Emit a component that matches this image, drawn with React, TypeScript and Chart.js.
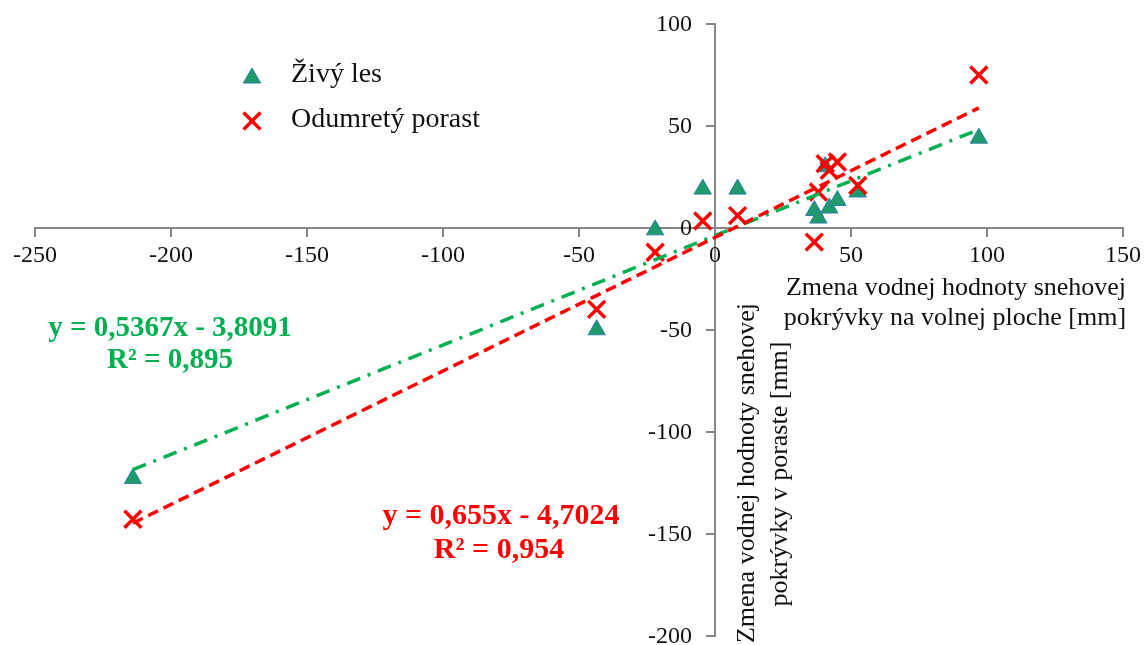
import React, { useEffect, useRef } from "react";
import { Chart, registerables } from "chart.js";

Chart.register(...registerables);

// Change of snow water equivalent on the open plot [mm] (shared by both stands)
const openAreaChange = [97, -214, -43.5, -22, -4.5, 8.3, 36.5, 38, 42, 45, 52.5, 40.5];
// Change of snow water equivalent inside the stand [mm]
const livingForest = [44, -123, -50, -1, 19, 19, 8.5, 4.8, 9.7, 13.4, 17.6, 30];
const deadStand = [75, -143, -40, -12, 3.4, 6, -7, 17.6, 28.2, 32.3, 20.8, 31.5];

const seriesNames = ["Živý les", "Odumretý porast"];

// Linear trend coefficients: y = slope * x + intercept
const livingTrend = { slope: 0.5367, intercept: -3.8091, r2: "0,895" };
const deadTrend = { slope: 0.655, intercept: -4.7024, r2: "0,954" };

const xTitleLines = ["Zmena vodnej hodnoty snehovej", "pokrývky na volnej ploche [mm]"];
const yTitleLines = ["Zmena vodnej hodnoty snehovej", "pokrývky v poraste [mm]"];

const GREEN = "#00B050";
const RED = "#FF0000";
const TRI_FILL = "#1f9a6a";
const TRI_EDGE = "#2f7fae";
const AXIS = "#878787";
const TEXT = "#111";
const SERIF = "'Liberation Serif', 'Times New Roman', serif";

const fmt = (v: number) => v.toString().replace(".", ",");

function trendPoints(t: { slope: number; intercept: number }) {
  const lo = Math.min(...openAreaChange);
  const hi = Math.max(...openAreaChange);
  return [lo, hi].map((x) => ({ x, y: t.slope * x + t.intercept }));
}

function drawTriangle(ctx: CanvasRenderingContext2D, x: number, y: number, r: number) {
  ctx.beginPath();
  ctx.moveTo(x, y - r);
  ctx.lineTo(x + r * 0.866, y + r / 2);
  ctx.lineTo(x - r * 0.866, y + r / 2);
  ctx.closePath();
  ctx.fillStyle = TRI_FILL;
  ctx.fill();
  ctx.strokeStyle = TRI_EDGE;
  ctx.lineWidth = 1;
  ctx.stroke();
}

function drawCross(ctx: CanvasRenderingContext2D, x: number, y: number, r: number) {
  const o = r * 0.7071;
  ctx.beginPath();
  ctx.moveTo(x - o, y - o);
  ctx.lineTo(x + o, y + o);
  ctx.moveTo(x - o, y + o);
  ctx.lineTo(x + o, y - o);
  ctx.strokeStyle = RED;
  ctx.lineWidth = 3.5;
  ctx.stroke();
}

const textPlugin = {
  id: "chartTexts",
  afterDraw(chart: Chart) {
    const ctx = chart.ctx;
    const xs = chart.scales.x;
    const ys = chart.scales.y;
    ctx.save();

    // tick labels beside the crossing axes
    const axisX = xs.getPixelForValue(0);
    const axisY = ys.getPixelForValue(0);
    ctx.fillStyle = TEXT;
    ctx.font = `24px ${SERIF}`;
    ctx.textBaseline = "middle";
    ctx.textAlign = "right";
    ys.ticks.forEach((t) => {
      ctx.fillText(String(t.value), axisX - 23, ys.getPixelForValue(t.value) + 1);
    });
    ctx.textAlign = "center";
    xs.ticks.forEach((t) => {
      ctx.fillText(String(t.value), xs.getPixelForValue(t.value), axisY + 28);
    });

    // legend
    drawTriangle(ctx, 252, 78, 10);
    drawCross(ctx, 252, 121, 12);
    ctx.fillStyle = TEXT;
    ctx.font = `28px ${SERIF}`;
    ctx.textAlign = "left";
    ctx.fillText(seriesNames[0], 291, 75);
    ctx.fillText(seriesNames[1], 291, 120);

    // trend equations
    ctx.textAlign = "center";
    ctx.font = `bold 29px ${SERIF}`;
    ctx.fillStyle = GREEN;
    ctx.fillText(`y = ${fmt(livingTrend.slope)}x - ${fmt(-livingTrend.intercept)}`, 170, 329);
    ctx.fillText(`R² = ${livingTrend.r2}`, 170, 361);
    ctx.font = `bold 30px ${SERIF}`;
    ctx.fillStyle = RED;
    ctx.fillText(`y = ${fmt(deadTrend.slope)}x - ${fmt(-deadTrend.intercept)}`, 501, 516);
    ctx.fillText(`R² = ${deadTrend.r2}`, 499, 550);

    // axis titles
    ctx.fillStyle = TEXT;
    ctx.font = `26px ${SERIF}`;
    ctx.fillText(xTitleLines[0], 956, 288);
    ctx.fillText(xTitleLines[1], 955, 318);

    ctx.save();
    ctx.translate(747, 473);
    ctx.rotate(-Math.PI / 2);
    ctx.fillText(yTitleLines[0], 0, 0);
    ctx.restore();
    ctx.save();
    ctx.translate(780, 474);
    ctx.rotate(-Math.PI / 2);
    ctx.fillText(yTitleLines[1], 0, 0);
    ctx.restore();

    ctx.restore();
  },
};

export default function App() {
  const canvasRef = useRef<HTMLCanvasElement | null>(null);

  useEffect(() => {
    if (!canvasRef.current) return;
    const grid = {
      drawOnChartArea: false,
      drawTicks: true,
      tickLength: 8,
      color: AXIS,
      lineWidth: 2,
    };
    const border = { display: true, color: AXIS, width: 2 };

    const chart = new Chart(canvasRef.current, {
      type: "scatter",
      data: {
        datasets: [
          {
            type: "line",
            label: "trend-dead",
            data: trendPoints(deadTrend),
            borderColor: RED,
            borderWidth: 3.5,
            borderDash: [11, 6],
            pointRadius: 0,
            fill: false,
          },
          {
            type: "line",
            label: "trend-living",
            data: trendPoints(livingTrend),
            borderColor: GREEN,
            borderWidth: 3.5,
            borderDash: [14, 8, 3, 8],
            pointRadius: 0,
            fill: false,
          },
          {
            label: seriesNames[1],
            data: openAreaChange.map((x, i) => ({ x, y: deadStand[i] })),
            pointStyle: "crossRot",
            pointRadius: 12,
            borderColor: RED,
            borderWidth: 3.5,
          },
          {
            label: seriesNames[0],
            data: openAreaChange.map((x, i) => ({ x, y: livingForest[i] })),
            pointStyle: "triangle",
            pointRadius: 10,
            backgroundColor: TRI_FILL,
            borderColor: TRI_EDGE,
            borderWidth: 1,
          },
        ],
      },
      options: {
        animation: false,
        responsive: true,
        maintainAspectRatio: false,
        layout: { padding: { left: 35, right: 21, top: 24, bottom: 3 } },
        plugins: {
          legend: { display: false },
          tooltip: { enabled: false },
        },
        scales: {
          x: {
            type: "linear",
            min: -250,
            max: 150,
            position: { y: 0 },
            grid,
            border,
            ticks: { stepSize: 50, display: false },
          },
          y: {
            type: "linear",
            min: -200,
            max: 100,
            position: { x: 0 },
            grid,
            border,
            ticks: { stepSize: 50, display: false },
          },
        },
      },
      plugins: [textPlugin],
    });
    return () => chart.destroy();
  }, []);

  return (
    <div style={{ position: "fixed", left: 0, top: 0, width: 1144, height: 651, background: "#fff" }}>
      <canvas ref={canvasRef} />
    </div>
  );
}
